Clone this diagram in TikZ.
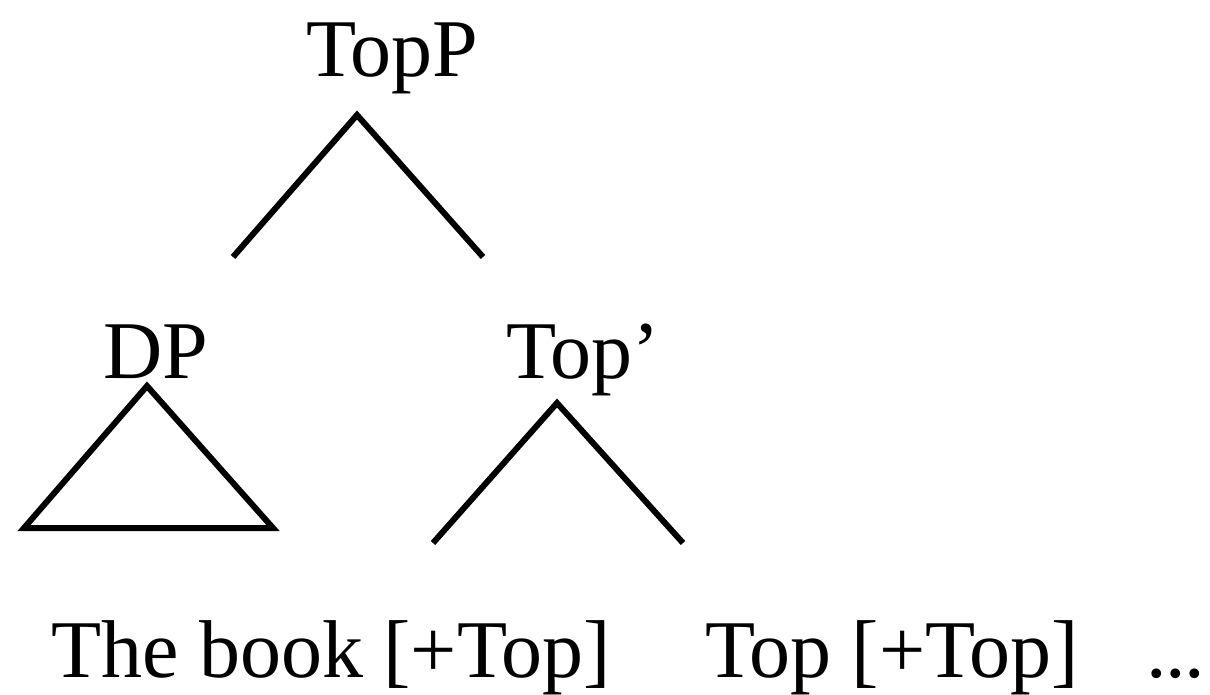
\documentclass[tikz,border=0pt]{standalone}
\usepackage{fontspec}
\setmainfont{Liberation Serif}
\begin{document}
\begin{tikzpicture}[x=1pt,y=-1pt,
  lbl/.style={anchor=base west,inner sep=0pt,outer sep=0pt,font=\fontsize{82}{98}\selectfont},
  branch/.style={line width=6pt,line cap=butt,line join=miter}]
\useasboundingbox (0,0) rectangle (1210,695);
% labels
\node[lbl] (topp) at (306,77) {TopP};
\node[lbl] (dp) at (103,378) {DP};
\node[lbl] (topbar) at (506,378) {Top’};
\node[lbl] (book) at (51,677) {The book [+Top]};
\node[lbl] (head) at (705,677) {Top [+Top]};
\node[lbl] (dots) at (1146,677) {.\kern-1.5pt.\kern-1.5pt.};
% branch points
\coordinate (a1) at (357,115);
\coordinate (l1) at (233,257);
\coordinate (r1) at (483,257);
\coordinate (a2) at (147,386);
\coordinate (l2) at (24,528);
\coordinate (r2) at (273,528);
\coordinate (a3) at (557,403);
\coordinate (l3) at (433,543);
\coordinate (r3) at (683,543);
% connectors
\draw[branch] (l1) -- (a1) -- (r1);
\draw[branch] (l2) -- (a2) -- (r2) -- cycle;
\draw[branch] (l3) -- (a3) -- (r3);
\end{tikzpicture}
\end{document}
